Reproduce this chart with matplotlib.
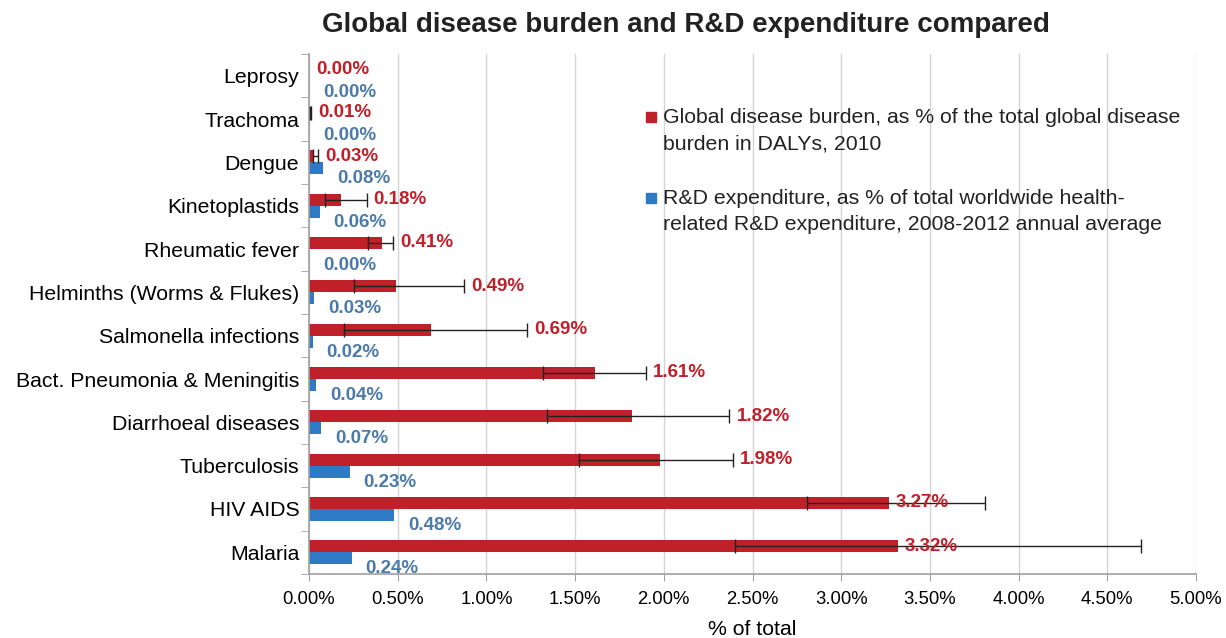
import matplotlib
matplotlib.use("Agg")
import matplotlib.pyplot as plt
from matplotlib.patches import Rectangle
import numpy as np

plt.rcParams['font.family'] = ['Liberation Sans', 'DejaVu Sans']

# data
diseases = ["Leprosy", "Trachoma", "Dengue", "Kinetoplastids", "Rheumatic fever",
            "Helminths (Worms & Flukes)", "Salmonella infections",
            "Bact. Pneumonia & Meningitis", "Diarrhoeal diseases", "Tuberculosis",
            "HIV AIDS", "Malaria"]
burden = [0.00, 0.01, 0.03, 0.18, 0.41, 0.49, 0.69, 1.61, 1.82, 1.98, 3.27, 3.32]
burden_lo = [np.nan, 0.005, 0.02, 0.09, 0.335, 0.255, 0.20, 1.32, 1.34, 1.52, 2.81, 2.40]
burden_hi = [np.nan, 0.012, 0.05, 0.325, 0.475, 0.875, 1.23, 1.90, 2.37, 2.39, 3.81, 4.69]
rnd = [0.00, 0.00, 0.08, 0.06, 0.00, 0.03, 0.02, 0.04, 0.07, 0.23, 0.48, 0.24]
xticks = [0, 0.5, 1.0, 1.5, 2.0, 2.5, 3.0, 3.5, 4.0, 4.5, 5.0]

legend_labels = ["Global disease burden, as % of the total global disease\nburden in DALYs, 2010",
                 "R&D expenditure, as % of total worldwide health-\nrelated R&D expenditure, 2008-2012 annual average"]

RED = "#C0202A"
BLUE = "#2E7AC4"
BLUE_TXT = "#4C7BAA"

fig = plt.figure(figsize=(12.26, 6.38), dpi=100)
ax = fig.add_axes([309/1226, 1-574/638, (1196-309)/1226, (574-54)/638])

y = np.arange(len(diseases))
h = 0.28
burden = np.array(burden)
lo = np.array(burden_lo)
hi = np.array(burden_hi)
ok = ~np.isnan(lo)
ax.barh(y - h/2, burden, height=h, color=RED, zorder=2)
ax.barh(y + h/2, rnd, height=h, color=BLUE, zorder=2)
ax.errorbar(burden[ok], (y - h/2)[ok], xerr=[burden[ok] - lo[ok], hi[ok] - burden[ok]],
            fmt='none', ecolor='#222222', elinewidth=1, capsize=5, capthick=1, zorder=3)

# red labels go after the whisker, except the two big ones sit at the bar end
for i, v in enumerate(burden):
    anchor = v if (i >= 10 or not ok[i]) else max(v, hi[i])
    ax.annotate(f"{v:.2f}%", (anchor, y[i] - h/2), xytext=(5, 0),
                textcoords='offset points', va='center', ha='left',
                color=RED, fontsize=13.5, fontweight='bold', zorder=4)
for i, v in enumerate(rnd):
    ax.annotate(f"{v:.2f}%", (v, y[i] + h/2 + 0.24), xytext=(10, 0),
                textcoords='offset points', va='center', ha='left',
                color=BLUE_TXT, fontsize=13.5, fontweight='bold', zorder=4)

ax.set_ylim(len(diseases) - 0.5, -0.5)
ax.set_yticks(y)
ax.set_yticklabels(diseases, fontsize=15.3)
ax.set_yticks(np.arange(len(diseases) + 1) - 0.5, minor=True)
ax.tick_params(axis='y', which='major', length=0, pad=7)
ax.tick_params(axis='y', which='minor', length=6, color='#A0A0A0')

ax.set_xlim(0, 5)
ax.set_xticks(xticks)
ax.set_xticklabels([f"{t:.2f}%" for t in xticks], fontsize=13.3)
ax.tick_params(axis='x', length=5, color='#A0A0A0', pad=7)
ax.set_xlabel("% of total", fontsize=15.3, labelpad=9)
ax.grid(axis='x', color='#D4D4D4', linewidth=1, zorder=0)
ax.set_axisbelow(True)

for s in ['top', 'right']:
    ax.spines[s].set_visible(False)
for s in ['left', 'bottom']:
    ax.spines[s].set_color('#A0A0A0')
    ax.spines[s].set_linewidth(1.2)

# legend drawn by hand so the squares sit on the first line
for (ly, col, lab) in [(117, RED, legend_labels[0]), (198, BLUE, legend_labels[1])]:
    fy = 1 - ly/638
    fig.patches.append(Rectangle((646/1226, fy - 5/638), 10/1226, 10/638,
                                 transform=fig.transFigure, color=col))
    fig.text(663/1226, fy + 9/638, lab, fontsize=15.3, va='top', ha='left',
             color='#222222', linespacing=1.48)

fig.text(686/1226, 1 - 25/638, "Global disease burden and R&D expenditure compared",
         ha='center', va='center', fontsize=20, fontweight='bold', color='#222222')

fig.savefig("out.png", dpi=100, facecolor='white')
